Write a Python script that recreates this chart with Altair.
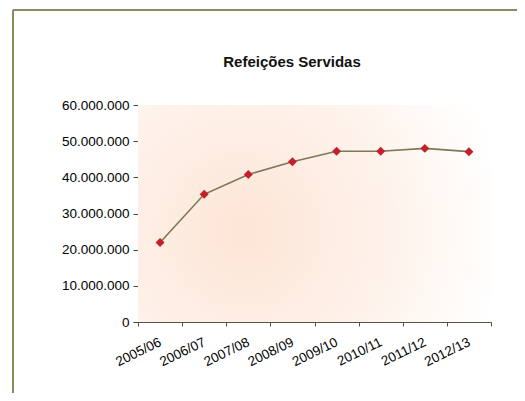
import altair as alt
import pandas as pd

periods = ["2005/06", "2006/07", "2007/08", "2008/09", "2009/10", "2010/11", "2011/12", "2012/13"]
meals = [22000000, 35300000, 40800000, 44300000, 47200000, 47200000, 48000000, 47100000]
y_ticks = [0, 10000000, 20000000, 30000000, 40000000, 50000000, 60000000]
chart_title = ["Refeições Servidas"]

df = pd.DataFrame({"periodo": periods, "refeicoes": meals})
one = pd.DataFrame({"k": [0]})
title_df = pd.DataFrame({"t": chart_title})

W, H = 353, 217
FONT = "Liberation Sans"
BORDER = "#8a8a5e"

x_enc = alt.X(
    "periodo:N",
    sort=periods,
    title=None,
    scale=alt.Scale(type="band", paddingInner=0, paddingOuter=0),
    axis=alt.Axis(
        tickBand="extent",
        tickSize=4,
        labelAngle=334,
        labelAlign="right",
        labelBaseline="middle",
        labelPadding=15,
        labelFont=FONT,
        labelFontSize=13.5,
        labelColor="#000000",
        domainColor="#55553f",
        tickColor="#55553f",
        labelOverlap=False,
    ),
)
y_enc = alt.Y(
    "refeicoes:Q",
    title=None,
    scale=alt.Scale(domain=[0, 60000000], nice=False),
    axis=alt.Axis(
        values=y_ticks,
        grid=False,
        tickSize=5,
        labelPadding=4,
        labelFont=FONT,
        labelFontSize=13.5,
        labelColor="#000000",
        domainColor="#444444",
        tickColor="#444444",
        labelExpr="replace(format(datum.value, ','), regexp(',', 'g'), '.')",
    ),
)

bg = alt.Chart(one).mark_rect(
    fill=alt.Gradient(
        gradient="radial",
        x1=0.3, y1=0.55, r1=0.0,
        x2=0.3, y2=0.55, r2=0.75,
        stops=[
            alt.GradientStop(offset=0, color="#fde5d6"),
            alt.GradientStop(offset=0.5, color="#fef1e9"),
            alt.GradientStop(offset=1, color="#ffffff"),
        ],
    ),
    stroke=None,
).encode(
    x=alt.value(0), x2=alt.value(W), y=alt.value(0), y2=alt.value(H)
)

left_border = alt.Chart(one).mark_rule(color=BORDER, strokeWidth=2).encode(
    x=alt.value(-125), y=alt.value(-95), y2=alt.value(288)
)
top_border = alt.Chart(one).mark_rule(color=BORDER, strokeWidth=2).encode(
    x=alt.value(-125), x2=alt.value(379), y=alt.value(-95)
)

title_mark = alt.Chart(title_df).mark_text(
    font=FONT, fontSize=15, fontWeight="bold", color="#111111",
    align="center", baseline="alphabetic",
).encode(text="t:N", x=alt.value(154), y=alt.value(-38))

line = alt.Chart(df).mark_line(color="#7a7856", strokeWidth=1.6).encode(x=x_enc, y=y_enc)
pts = alt.Chart(df).mark_point(
    shape="diamond", filled=True, color="#c42029", size=80, opacity=1
).encode(x=x_enc, y=y_enc)

chart = alt.layer(bg, left_border, top_border, title_mark, line, pts).properties(
    width=W,
    height=H,
    autosize=alt.AutoSizeParams(type="none"),
    padding={"left": 130, "top": 97, "right": 26, "bottom": 71},
).configure_view(stroke=None)

chart.save("out.html", embed_options={"renderer": "svg", "actions": False})
